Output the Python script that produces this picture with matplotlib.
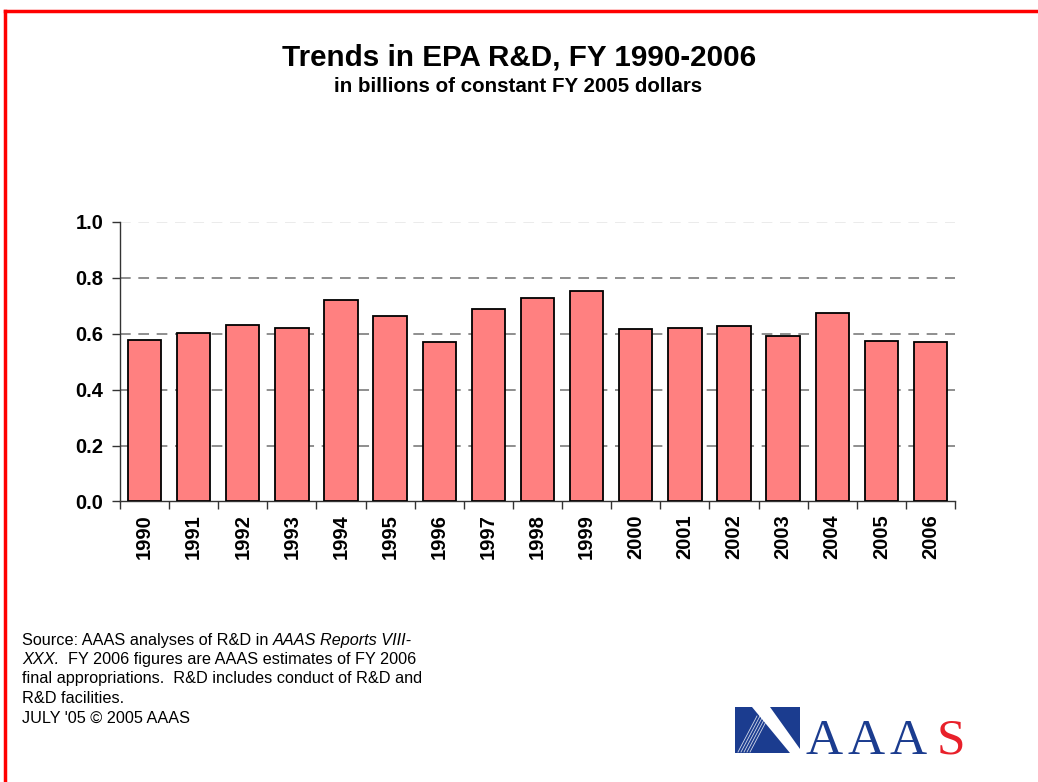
import matplotlib
matplotlib.use('Agg')
import matplotlib.pyplot as plt
from matplotlib.lines import Line2D
from matplotlib.patches import Rectangle, Polygon
import numpy as np

plt.rcParams['font.family'] = ['Liberation Sans', 'DejaVu Sans']

#==================== data ========================
years = ['1990', '1991', '1992', '1993', '1994', '1995', '1996', '1997', '1998',
         '1999', '2000', '2001', '2002', '2003', '2004', '2005', '2006']
epa_rd = [0.578, 0.603, 0.630, 0.622, 0.721, 0.665, 0.569, 0.689, 0.728,
          0.754, 0.617, 0.620, 0.627, 0.591, 0.676, 0.573, 0.569]
y_ticks = [0.0, 0.2, 0.4, 0.6, 0.8, 1.0]

title = 'Trends in EPA R&D, FY 1990-2006'
subtitle = 'in billions of constant FY 2005 dollars'

#==================== figure ========================
W, H = 1038, 782
fig = plt.figure(figsize=(W / 100, H / 100), dpi=100)
fig.patch.set_facecolor('white')

# red slide frame (top and left visible)
fig.add_artist(Line2D([5 / W, 1.0], [1 - 11 / H, 1 - 11 / H], color='#ff0000', lw=2.5))
fig.add_artist(Line2D([5 / W, 5 / W], [0.0, 1 - 11 / H], color='#ff0000', lw=2.5))

ax = fig.add_axes([120 / W, 1 - 501.5 / H, 835 / W, 279.5 / H])
x = np.arange(len(years))
ax.bar(x, epa_rd, width=0.68, color='#ff8080', edgecolor='black', linewidth=1.3, zorder=3)

ax.set_xlim(-0.5, len(years) - 0.5)
ax.set_ylim(0, 1.0)

# dashed gridlines, top one faint
for v in y_ticks[1:]:
    c = '#e6e6e6' if v == 1.0 else '#707070'
    ax.axhline(v, color=c, lw=1.1, ls=(0, (7, 5)), zorder=1)

ax.set_yticks(y_ticks)
ax.set_yticklabels(['%.1f' % v for v in y_ticks], fontsize=14.5, fontweight='bold')
ax.set_xticks(list(x - 0.5) + [len(years) - 0.5])
ax.set_xticklabels([])
ax.set_xticks(x, minor=True)
ax.set_xticklabels(years, minor=True, rotation=90, fontsize=14.5, fontweight='bold')
ax.tick_params(axis='x', which='minor', length=0, pad=9)
ax.tick_params(axis='x', which='major', length=6, width=1, color='#333333', direction='out')
ax.tick_params(axis='y', length=6, width=1, color='#333333', direction='out', pad=6)

for s in ['top', 'right']:
    ax.spines[s].set_visible(False)
for s in ['left', 'bottom']:
    ax.spines[s].set_color('#333333')
    ax.spines[s].set_linewidth(1.0)

#==================== titles ========================
fig.text(519 / W, 1 - 57 / H, title, ha='center', va='center', fontsize=21.3, fontweight='bold')
fig.text(518 / W, 1 - 86 / H, subtitle, ha='center', va='center', fontsize=14.8, fontweight='bold')

#==================== source note ========================
fig.canvas.draw()
renderer = fig.canvas.get_renderer()

note_lines = [
    [('Source: AAAS analyses of R&D in ', 'normal'), ('AAAS Reports VIII-', 'italic')],
    [('XXX.', 'italic'), ('  FY 2006 figures are AAAS estimates of FY 2006', 'normal')],
    [('final appropriations.  R&D includes conduct of R&D and', 'normal')],
    [('R&D facilities.', 'normal')],
    [("JULY '05 \u00a9 2005 AAAS", 'normal')],
]
y0 = 640
for i, parts in enumerate(note_lines):
    xp = 22
    for txt, style in parts:
        t = fig.text(xp / W, 1 - (y0 + i * 19.5) / H, txt, ha='left', va='center',
                     fontsize=11.7, fontstyle=style)
        bb = t.get_window_extent(renderer)
        xp += bb.width

#==================== AAAS logo ========================
blue = '#1b3c8f'
fig.add_artist(Rectangle((735 / W, 1 - 753 / H), 65 / W, 46 / H, transform=fig.transFigure,
                         facecolor=blue, edgecolor='none'))
fig.add_artist(Polygon([[752 / W, 1 - 707 / H], [770 / W, 1 - 707 / H],
                        [800 / W, 1 - 749 / H], [800 / W, 1 - 753 / H], [790 / W, 1 - 753 / H]],
                       closed=True, transform=fig.transFigure, facecolor='white', edgecolor='none'))
for k in range(5):
    fig.add_artist(Line2D([(738 + k * 3) / W, (757 + k * 3) / W], [1 - 752 / H, 1 - 716 / H],
                          color='white', lw=0.6, alpha=0.8))
for lx, letter, col in [(806, 'A', blue), (848, 'A', blue), (890, 'A', blue), (937, 'S', '#e8202a')]:
    fig.text(lx / W, 1 - 754 / H, letter, ha='left', va='baseline', fontsize=37,
             family='Liberation Serif', color=col)

fig.savefig('out.png', dpi=100)
